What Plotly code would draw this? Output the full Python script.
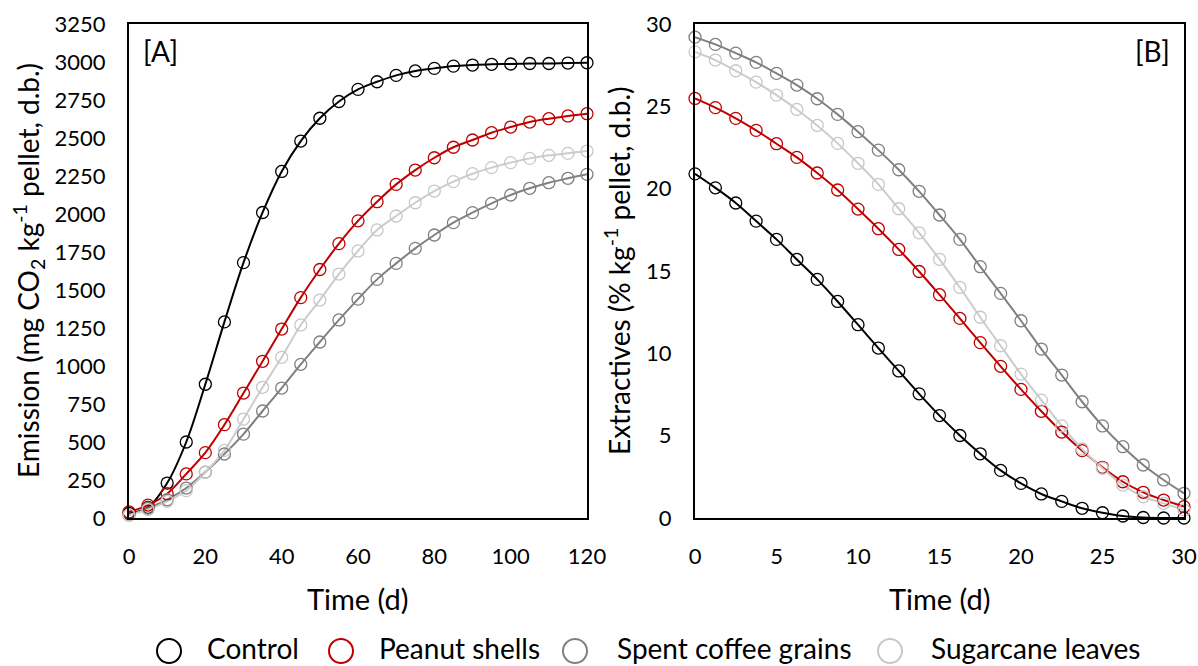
import plotly.graph_objects as go

# ---------------- data ----------------
time_A = [0, 5, 10, 15, 20, 25, 30, 35, 40, 45, 50, 55, 60, 65, 70, 75, 80, 85, 90, 95, 100, 105, 110, 115, 120]
control_A = [30, 70, 230, 500, 880, 1290, 1680, 2010, 2280, 2480, 2630, 2740, 2820, 2870, 2912, 2941, 2958, 2973, 2980, 2985, 2987, 2990, 2990, 2993, 2995]
peanut_A = [40, 85, 160, 290, 430, 614, 822, 1031, 1243, 1450, 1635, 1805, 1955, 2081, 2195, 2289, 2370, 2439, 2487, 2535, 2572, 2605, 2627, 2645, 2660]
coffee_A = [20, 65, 120, 197, 302, 421, 552, 704, 855, 1011, 1158, 1303, 1440, 1570, 1675, 1774, 1862, 1943, 2009, 2070, 2125, 2169, 2206, 2235, 2261]
sugar_A = [20, 55, 110, 180, 300, 445, 651, 860, 1057, 1270, 1434, 1605, 1757, 1895, 1987, 2074, 2151, 2213, 2265, 2305, 2338, 2366, 2386, 2399, 2414]

time_B = [0, 1.25, 2.5, 3.75, 5, 6.25, 7.5, 8.75, 10, 11.25, 12.5, 13.75, 15, 16.25, 17.5, 18.75, 20, 21.25, 22.5, 23.75, 25, 26.25, 27.5, 28.75, 30]
control_B = [20.9, 20.05, 19.13, 18.03, 16.92, 15.7, 14.49, 13.15, 11.74, 10.32, 8.93, 7.54, 6.22, 5.01, 3.9, 2.89, 2.1, 1.46, 1.01, 0.59, 0.32, 0.12, 0.03, 0.0, 0.0]
peanut_B = [25.48, 24.92, 24.27, 23.54, 22.73, 21.9, 20.95, 19.92, 18.76, 17.57, 16.31, 14.97, 13.56, 12.12, 10.65, 9.21, 7.81, 6.48, 5.22, 4.09, 3.08, 2.2, 1.56, 1.09, 0.69]
coffee_B = [29.2, 28.76, 28.23, 27.67, 27.0, 26.29, 25.46, 24.51, 23.46, 22.34, 21.15, 19.84, 18.4, 16.92, 15.26, 13.64, 11.98, 10.26, 8.68, 7.06, 5.59, 4.33, 3.22, 2.31, 1.5]
sugar_B = [28.31, 27.81, 27.16, 26.47, 25.68, 24.81, 23.84, 22.75, 21.54, 20.26, 18.78, 17.32, 15.71, 14.0, 12.19, 10.46, 8.74, 7.16, 5.59, 4.19, 3.02, 2.0, 1.29, 0.89, 0.49]

series_names = ["Control", "Peanut shells", "Spent coffee grains", "Sugarcane leaves"]
line_colors = ["#000000", "#C00000", "#808080", "#CCCCCC"]
marker_colors = ["#000000", "#C00000", "#808080", "#C8C8C8"]

xticks_A = [0, 20, 40, 60, 80, 100, 120]
yticks_A = list(range(0, 3251, 250))
xticks_B = [0, 5, 10, 15, 20, 25, 30]
yticks_B = [0, 5, 10, 15, 20, 25, 30]

FONT = "Lato, Carlito, 'Open Sans', sans-serif"

fig = go.Figure()

panels = [
    ("x", "y", time_A, [control_A, peanut_A, coffee_A, sugar_A]),
    ("x2", "y2", time_B, [control_B, peanut_B, coffee_B, sugar_B]),
]
for xa, ya, tx, ys in panels:
    for name, yv, lc, mc in zip(series_names, ys, line_colors, marker_colors):
        fig.add_trace(go.Scatter(
            x=tx, y=yv, mode="lines", name=name, showlegend=False,
            line=dict(color=lc, width=2, shape="spline", smoothing=1.0),
            xaxis=xa, yaxis=ya, cliponaxis=True, hoverinfo="skip"))
    for name, yv, lc, mc in zip(series_names, ys, line_colors, marker_colors):
        fig.add_trace(go.Scatter(
            x=tx, y=yv, mode="markers", name=name, showlegend=False,
            marker=dict(symbol="circle-open", size=12, color=mc, line=dict(width=1.3, color=mc)),
            xaxis=xa, yaxis=ya, cliponaxis=False))

W, H = 1198, 666
OFF = 0  # body margin removed by post_script
def px(xp):
    return (xp - OFF) / W
def py(yp):
    return 1 - (yp - OFF) / H

axis_common = dict(
    showgrid=False, zeroline=False, showline=True, mirror=True,
    linecolor="black", linewidth=2, ticks="", automargin=False,
    tickfont=dict(family=FONT, size=22, color="black"),
)

fig.update_layout(
    width=W, height=H,
    margin=dict(l=0, r=0, t=0, b=0, pad=0),
    paper_bgcolor="white", plot_bgcolor="white",
    showlegend=False,
    font=dict(family=FONT, color="black"),
    xaxis=dict(domain=[px(129), px(587)], range=[0, 120], tickvals=xticks_A,
               ticklabelstandoff=18, anchor="y", **axis_common),
    yaxis=dict(domain=[py(518), py(24)], range=[0, 3250], tickvals=yticks_A,
               ticklabelstandoff=17, anchor="x", **axis_common),
    xaxis2=dict(domain=[px(695), px(1184)], range=[0, 30], tickvals=xticks_B,
                ticklabelstandoff=18, anchor="y2", **axis_common),
    yaxis2=dict(domain=[py(518), py(24)], range=[0, 30], tickvals=yticks_B,
                ticklabelstandoff=17, anchor="x2", **axis_common),
)

xtitle_font = dict(family=FONT, size=29, color="black")
ytitle_font = dict(family=FONT, size=28, color="black")
legend_font = dict(family=FONT, size=28, color="black")
annos = [
    dict(x=px(358), y=py(598), text="Time (d)", textangle=0, font=xtitle_font),
    dict(x=px(939.5), y=py(598), text="Time (d)", textangle=0, font=xtitle_font),
    dict(x=px(28), y=py(271), text="Emission (mg CO<sub>2</sub> kg<sup>-1</sup> pellet, d.b.)", textangle=-90, font=ytitle_font),
    dict(x=px(617), y=py(271), text="Extractives (% kg<sup>-1</sup> pellet, d.b.)", textangle=-90, font=ytitle_font),
]
for a in annos:
    fig.add_annotation(xref="paper", yref="paper", showarrow=False,
                       xanchor="center", yanchor="middle", **a)
for txt, xx in [("[A]", 160), ("[B]", 1152)]:
    fig.add_annotation(xref="paper", yref="paper", showarrow=False,
                       x=px(xx), y=py(51), xanchor="center", yanchor="middle",
                       text=txt, font=legend_font)

# custom legend (large open circles)
legend_circle_x = [169, 341, 575, 890]
legend_text_x = [205, 377, 615, 929]
legend_y = 651
legend_text_y = 648
for name, mc, cx, tx in zip(series_names, marker_colors, legend_circle_x, legend_text_x):
    fig.add_shape(type="circle", xref="paper", yref="paper",
                  xsizemode="pixel", ysizemode="pixel",
                  xanchor=px(cx), yanchor=py(legend_y),
                  x0=-12, x1=12, y0=-12, y1=12,
                  line=dict(color=mc, width=2), fillcolor="rgba(0,0,0,0)")
    fig.add_annotation(xref="paper", yref="paper", showarrow=False,
                       x=px(tx), y=py(legend_text_y), xanchor="left", yanchor="middle",
                       text=name, font=legend_font)

fig.write_html(
    "out.html",
    config={"displayModeBar": False},
    post_script="document.body.style.margin='0px';document.body.style.overflow='hidden';",
)
